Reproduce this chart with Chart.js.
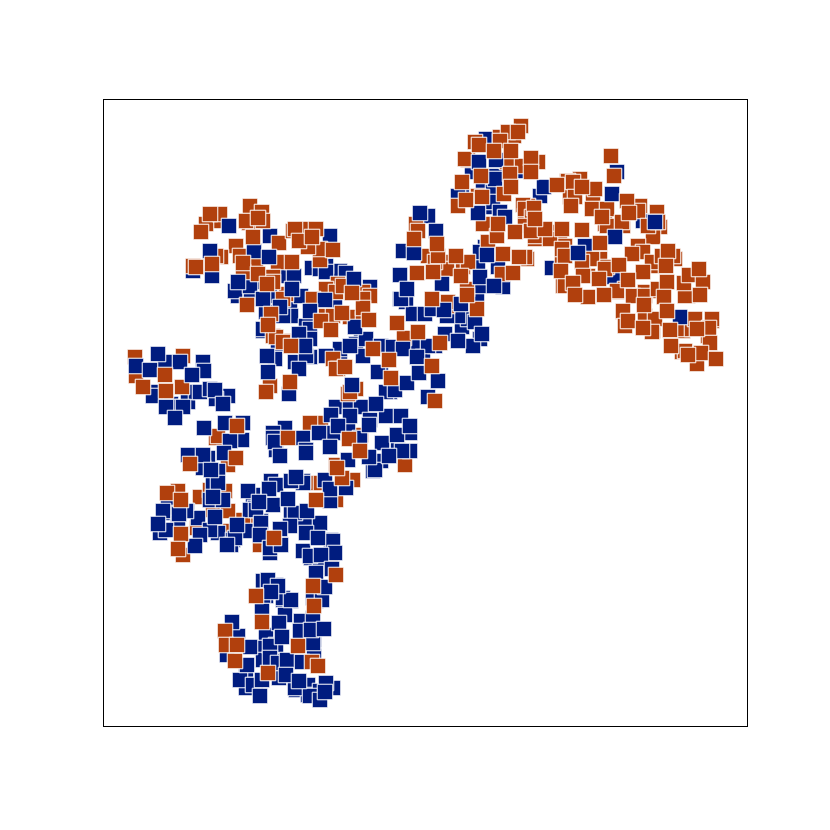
<!DOCTYPE html>
<html><head><meta charset="utf-8">
<style>html,body{margin:0;padding:0;background:#fff}canvas{display:block}</style>
<script src="https://cdn.jsdelivr.net/npm/chart.js@4"></script></head><body>
<canvas id="c" width="830" height="830"></canvas>
<script>
const NAVY='#001c7f', ORANGE='#b1400d';
const orangeFront=[[210,214],[201,232],[253,237],[258,218],[299,241],[312,237],[333,250],[292,262],[243,263],[212,264],[196,267],[258,274],[267,284],[247,305],[271,314],[268,325],[342,313],[363,308],[352,293],[369,320],[321,321],[331,330],[373,349],[291,346],[345,367],[389,360],[391,378],[290,382],[266,392],[165,375],[143,387],[166,391],[397,323],[414,239],[417,273],
[518,132],[479,145],[494,151],[511,151],[531,158],[481,176],[510,174],[511,187],[531,172],[466,200],[498,224],[515,232],[531,231],[545,229],[557,185],[582,187],[571,206],[534,208],[535,219],[582,230],[602,217],[627,201],[629,213],[611,156],[614,176],[600,243],[632,254],[668,251],[666,266],[619,265],[643,272],[628,280],[599,279],[561,271],[573,283],[588,297],[604,295],[575,295],[667,282],[684,283],[664,297],[689,275],[703,282],[699,269],[700,295],[644,305],[628,321],[643,328],[667,311],[670,330],[709,328],[710,343],[671,346],[701,353],[688,355],[716,359],[697,329],[503,254],[519,257],[513,273],[456,256],[461,276],[433,272],[432,299],[477,309],[467,295],[440,343],[437,244],[435,401],[432,366],
[167,493],[181,500],[236,458],[190,464],[237,426],[288,438],[349,439],[360,451],[342,478],[337,468],[316,500],[181,534],[178,549],[274,538],[313,586],[336,575],[256,596],[314,606],[262,622],[225,631],[226,645],[237,645],[298,646],[235,661],[268,673],[312,662],[318,666]];
const navyFront=[[229,226],[254,251],[210,251],[269,257],[212,276],[238,282],[294,276],[292,289],[354,279],[325,300],[310,311],[280,307],[355,327],[299,334],[305,346],[350,346],[275,359],[299,369],[268,372],[289,394],[267,356],[158,354],[180,362],[136,366],[150,370],[204,371],[192,375],[215,390],[223,404],[376,404],[352,385],[395,390],[407,383],[403,349],[417,357],[419,373],[400,275],[407,289],[414,253],[420,213],
[479,162],[496,160],[544,187],[612,194],[478,213],[655,222],[615,237],[578,253],[480,277],[494,286],[461,304],[475,322],[482,334],[458,341],[680,317],[436,231],[442,284],[444,310],[438,381],[487,255],
[175,418],[204,428],[225,423],[275,442],[280,456],[319,433],[330,447],[369,425],[382,443],[397,435],[410,426],[402,451],[389,456],[369,457],[348,460],[224,453],[211,470],[296,477],[330,489],[269,489],[259,502],[288,499],[213,497],[179,514],[215,517],[237,525],[200,535],[158,524],[307,511],[306,533],[318,538],[321,555],[332,569],[271,592],[322,600],[325,587],[262,611],[232,622],[279,623],[282,637],[311,630],[324,629],[250,647],[247,665],[262,680],[287,660],[302,662],[286,675],[299,681],[325,692],[260,696],[227,545],[195,546],[280,529]];
const orangeBack=[[249,223],[236,246],[279,243],[256,262],[320,260],[240,256],[250,206],[262,212],[218,221],[293,231],[306,229],[320,249],[278,262],[273,277],[338,284],[326,289],[363,292],[313,299],[336,292],[330,316],[350,317],[286,294],[286,341],[273,336],[270,386],[333,359],[338,369],[348,394],[356,389],[404,338],[418,332],[183,356],[135,357],[136,376],[182,387],[416,224],[418,231],
[206,224],[220,214],[246,221],[263,221],[295,229],[316,229],[308,247],[221,257],[216,256],[193,266],[243,272],[273,282],[343,286],[370,296],[363,299],[326,316],[333,316],[363,319],[283,299],[276,337],[283,342],[336,369],[350,392],
[521,126],[514,136],[500,137],[468,160],[475,142],[462,182],[478,196],[504,194],[458,206],[483,224],[528,206],[523,205],[525,216],[550,236],[560,232],[565,246],[562,256],[570,197],[567,181],[580,179],[593,194],[605,224],[623,226],[640,206],[657,212],[660,227],[653,237],[642,252],[600,259],[583,264],[607,267],[588,276],[625,289],[617,292],[563,286],[645,292],[658,291],[653,266],[675,259],[688,296],[623,312],[625,322],[645,319],[653,331],[683,331],[695,319],[712,321],[682,352],[697,362],[527,259],[535,239],[488,242],[497,236],[463,267],[442,276],[447,306],[428,256],[445,262],
[508,132],[500,141],[465,159],[482,197],[507,162],[522,166],[538,162],[525,209],[532,217],[525,226],[535,236],[550,239],[562,229],[568,181],[573,182],[595,189],[575,197],[592,209],[607,209],[607,226],[622,222],[638,211],[648,226],[658,222],[638,246],[643,252],[652,262],[662,256],[673,256],[592,259],[562,249],[582,262],[565,256],[565,286],[583,276],[605,269],[617,291],[633,296],[645,296],[658,289],[685,296],[623,311],[625,326],[645,316],[655,319],[652,332],[682,329],[692,329],[712,319],[695,319],[708,336],[685,351],[697,364],[525,257],[502,274],[447,269],[435,262],[468,262],[448,302],[467,289],[438,256]];
const orangeDeep=[[200,497],[210,490],[216,438],[228,465],[218,506],[197,528],[223,531],[260,545],[246,525],[243,520],[331,555],[183,555],[178,491],[225,491],[218,436],[361,435],[405,465],[316,483],[321,483],[336,465],[353,480],[336,500],[213,510],[228,511],[321,423],[310,423]];
const navyBack=[[406,302],[340,271],[346,273],[312,268],[193,271],[238,296],[255,282],[251,299],[266,312],[290,309],[291,316],[263,331],[278,344],[306,326],[310,357],[295,362],[340,352],[361,339],[356,344],[330,356],[381,372],[390,392],[400,299],[413,314],[403,251],[165,362],[203,362],[158,392],[171,404],[188,402],[196,392],[171,407],[310,299],[335,307],[370,287],[270,236],[330,236],[326,266],[270,296],
[235,291],[250,286],[263,299],[281,276],[301,296],[320,269],[326,272],[263,329],[283,316],[310,329],[306,356],[310,339],[366,339],[340,349],[326,356],[363,356],[381,346],[393,347],[378,372],[386,392],[413,346],[423,357],[425,314],[401,299],[153,396],[166,407],[183,407],[200,392],[210,389],[228,396],[216,399],[336,407],[350,407],[361,407],
[483,186],[462,196],[493,192],[495,176],[472,172],[486,139],[523,171],[540,196],[617,172],[493,207],[592,249],[552,268],[614,277],[478,262],[498,267],[503,287],[463,319],[455,316],[445,334],[462,327],[435,346],[643,221],[585,246],[485,247],[477,296],[428,216],[428,397],
[458,196],[495,179],[493,202],[500,212],[505,217],[488,242],[480,252],[482,286],[468,319],[458,316],[447,316],[480,339],[473,346],[432,309],[428,346],
[242,440],[230,441],[188,455],[208,458],[218,471],[203,468],[213,485],[168,502],[187,511],[198,518],[166,513],[161,530],[178,523],[218,533],[233,540],[247,531],[243,423],[271,481],[276,485],[253,495],[255,508],[273,505],[261,521],[291,513],[261,535],[270,546],[280,545],[292,481],[303,481],[285,428],[303,438],[306,450],[333,433],[348,426],[350,416],[331,415],[273,433],[386,416],[401,416],[410,451],[381,461],[373,471],[325,480],[346,488],[330,501],[305,520],[320,523],[331,540],[311,558],[320,568],[333,551],[316,601],[283,600],[291,601],[266,596],[276,585],[263,581],[285,615],[301,621],[313,618],[314,640],[238,636],[266,635],[276,645],[262,648],[314,656],[227,655],[280,661],[263,660],[246,676],[256,685],[279,678],[308,685],[296,690],[308,695],[320,696],[246,688],[320,691],
[273,438],[276,450],[306,453],[338,426],[360,438],[370,420],[398,450],[410,433],[375,470],[203,455],[218,483],[210,500],[223,500],[163,511],[186,511],[160,533],[166,530],[210,530],[231,545],[235,538],[248,491],[250,510],[256,510],[261,523],[260,535],[270,553],[270,548],[281,545],[295,513],[290,526],[303,483],[291,481],[303,551],[310,556],[333,541],[335,553],[316,573],[313,598],[283,598],[291,600],[268,580],[278,586],[263,596],[300,631],[313,643],[270,646],[270,658],[278,663],[240,680],[253,685],[295,688],[310,696],[320,700],[333,688],[326,683]];
const toPoints=a=>a.map(p=>({x:p[0],y:p[1]}));
const series=(data,color)=>({data:toPoints(data),pointStyle:'rect',pointRadius:11,pointBackgroundColor:color,pointBorderColor:'#ffffff',pointBorderWidth:1,showLine:false});
const frame={id:'frame',afterDraw(ch){const a=ch.chartArea,c=ch.ctx;c.save();c.strokeStyle='#000';c.lineWidth=1;c.strokeRect(a.left+.5,a.top+.5,a.width,a.height);c.restore();}};
new Chart(document.getElementById('c'),{type:'scatter',
 data:{datasets:[series(orangeFront,ORANGE),series(navyFront,NAVY),series(orangeBack,ORANGE),series(navyBack,NAVY),series(orangeDeep,ORANGE)]},
 plugins:[frame],
 options:{responsive:false,animation:false,
  layout:{padding:{left:103,right:83,top:99,bottom:104}},
  plugins:{legend:{display:false},tooltip:{enabled:false}},
  scales:{x:{type:'linear',min:103,max:747,ticks:{display:false},grid:{display:false,drawTicks:false},border:{display:false}},
          y:{type:'linear',min:99,max:726,reverse:true,ticks:{display:false},grid:{display:false,drawTicks:false},border:{display:false}}}}});
</script></body></html>
